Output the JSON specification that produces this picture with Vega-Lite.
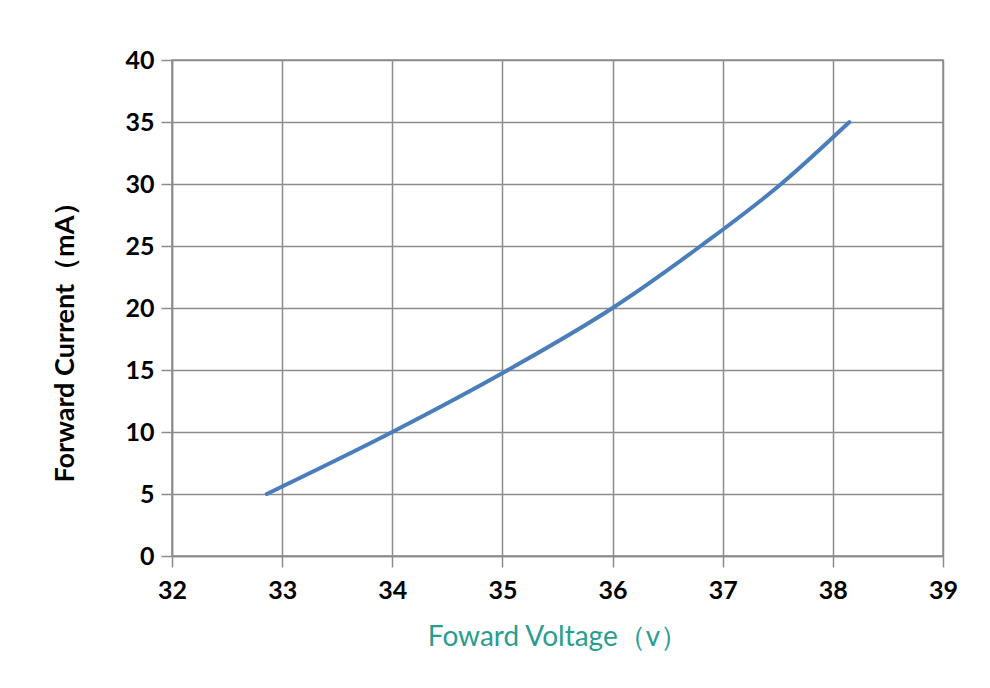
{
  "$schema": "https://vega.github.io/schema/vega-lite/v6.json",
  "width": 771,
  "height": 496,
  "autosize": {"type": "none"},
  "padding": {"left": 172, "top": 60, "right": 47, "bottom": 132},
  "background": "white",
  "config": {
    "view": {"stroke": "#8c8c8c", "strokeWidth": 1.5},
    "font": "Lato"
  },
  "data": {
    "values": [
      {"voltage": 32.86, "current": 5},
      {"voltage": 34.0, "current": 10},
      {"voltage": 35.05, "current": 15},
      {"voltage": 36.0, "current": 20},
      {"voltage": 36.8, "current": 25},
      {"voltage": 37.53, "current": 30},
      {"voltage": 38.15, "current": 35}
    ]
  },
  "mark": {"type": "line", "color": "#4a7ebb", "strokeWidth": 4, "interpolate": "monotone", "strokeCap": "round"},
  "encoding": {
    "x": {
      "field": "voltage",
      "type": "quantitative",
      "scale": {"domain": [32, 39], "nice": false, "zero": false},
      "axis": {
        "title": "Foward Voltage（v）",
        "values": [32, 33, 34, 35, 36, 37, 38, 39],
        "format": "d",
        "grid": true,
        "gridColor": "#8c8c8c",
        "gridWidth": 1.5,
        "domainColor": "#8c8c8c",
        "domainWidth": 1.5,
        "tickColor": "#8c8c8c",
        "tickWidth": 1.5,
        "tickSize": 11,
        "labelFont": "Lato",
        "labelFontWeight": "bold",
        "labelFontSize": 25,
        "labelColor": "#000000",
        "labelPadding": 11,
        "labelFlush": false,
        "titleFont": "Lato",
        "titleFontWeight": "normal",
        "titleFontSize": 28,
        "titleColor": "#2a9d8f",
        "titleBaseline": "alphabetic",
        "titleAnchor": "middle",
        "titleY": 89
      }
    },
    "y": {
      "field": "current",
      "type": "quantitative",
      "scale": {"domain": [0, 40], "nice": false},
      "axis": {
        "title": "Forward Current（mA）",
        "values": [0, 5, 10, 15, 20, 25, 30, 35, 40],
        "grid": true,
        "gridColor": "#8c8c8c",
        "gridWidth": 1.5,
        "domainColor": "#8c8c8c",
        "domainWidth": 1.5,
        "tickColor": "#8c8c8c",
        "tickWidth": 1.5,
        "tickSize": 11,
        "labelFont": "Lato",
        "labelFontWeight": "bold",
        "labelFontSize": 25,
        "labelColor": "#000000",
        "labelPadding": 7,
        "labelFlush": false,
        "titleFont": "Lato",
        "titleFontWeight": "bold",
        "titleFontSize": 27,
        "titleColor": "#000000",
        "titleAngle": -90,
        "titleAlign": "center",
        "titleBaseline": "alphabetic",
        "titleX": -99,
        "titleY": 275
      }
    }
  }
}
